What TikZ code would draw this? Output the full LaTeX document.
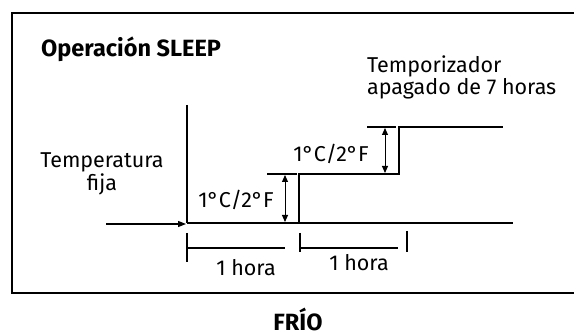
\documentclass[tikz,border=0pt]{standalone}
\usepackage{fontspec}
\setmainfont{Fira Sans}
\usetikzlibrary{arrows.meta}
\begin{document}
\begin{tikzpicture}[x=1pt,y=-1pt,
  txt/.style={inner sep=0pt,text=black,font=\fontsize{21.5}{22}\selectfont},
  ttl/.style={inner sep=0pt,text=black,font=\fontsize{23.5}{24}\selectfont\bfseries},
  thin/.style={line width=1.2pt},
  thick/.style={line width=2pt},
  dim/.style={line width=1pt,{Triangle[length=7pt,width=6pt]}-{Triangle[length=7pt,width=6pt]}}]
\useasboundingbox (0,0) rectangle (574,336);
\draw[thick] (600,13) -- (12,13) -- (12,293) -- (600,293);
% axis and baseline
\coordinate (axtop) at (187,105);
\coordinate (o) at (187,223);
\coordinate (s1b) at (299,223);
\coordinate (s1t) at (299,174);
\coordinate (s2b) at (399,174);
\coordinate (s2t) at (399,127);
\coordinate (endt) at (503,127);
\coordinate (endb) at (513,224);
\coordinate (arrs) at (106,224);
\draw[thin] (axtop) -- (o);
\draw[line width=1.2pt] (s1b) -- (endb|-s1b);
\draw[line width=2.2pt] (o) -- (s1b);
\draw[thick] (299,224) -- (s1t) -- (s2b) -- (s2t) -- (endt);
\draw[line width=1.2pt,-{Triangle[length=8pt,width=6pt]}] (arrs) -- (186,224);
% dimension 1
\coordinate (t1a) at (267,174);
\coordinate (t1b) at (297,174);
\draw[thick] (t1a) -- (t1b);
\coordinate (d1t) at (285,175);
\coordinate (d1b) at (285,222);
\draw[dim] (d1t) -- (d1b);
% dimension 2
\coordinate (t2a) at (367,127);
\coordinate (t2b) at (396,127);
\draw[thick] (t2a) -- (t2b);
\coordinate (d2t) at (385,128);
\coordinate (d2b) at (385,173);
\draw[dim] (d2t) -- (d2b);
% time scale
\coordinate (k1a) at (187,233);
\coordinate (k1b) at (187,262);
\coordinate (k2a) at (300,233);
\coordinate (k2b) at (300,252);
\coordinate (k3a) at (407,231);
\coordinate (k3b) at (407,252);
\draw[thick] (k1a) -- (k1b);
\draw[thick] (k2a) -- (k2b);
\draw[line width=2.6pt] (k3a) -- (k3b);
\coordinate (l1e) at (285,248);
\coordinate (l2e) at (398,248);
\draw[thick] (187,248) -- (l1e);
\draw[thick] (300,248) -- (l2e);
% texts
\node[ttl,anchor=base west] (title) at (41,57) {Operación SLEEP};
\node[txt,anchor=base] (tf1) at (102,168) {Temperatura};
\node[txt,anchor=base] (tf2) at (102,191) {fija};
\node[txt,anchor=base west] (tp1) at (367,73) {Temporizador};
\node[txt,anchor=base west] (tp2) at (367,95) {apagado de 7 horas};
\node[txt,anchor=base] (c1) at (236,208) {1°C/2°F};
\node[txt,anchor=base] (c2) at (331,162) {1°C/2°F};
\node[txt,anchor=base] (h1) at (246,276) {1 hora};
\node[txt,anchor=base] (h2) at (359,271) {1 hora};
\node[ttl,anchor=base] (frio) at (298,331) {FRÍO};
\end{tikzpicture}
\end{document}
